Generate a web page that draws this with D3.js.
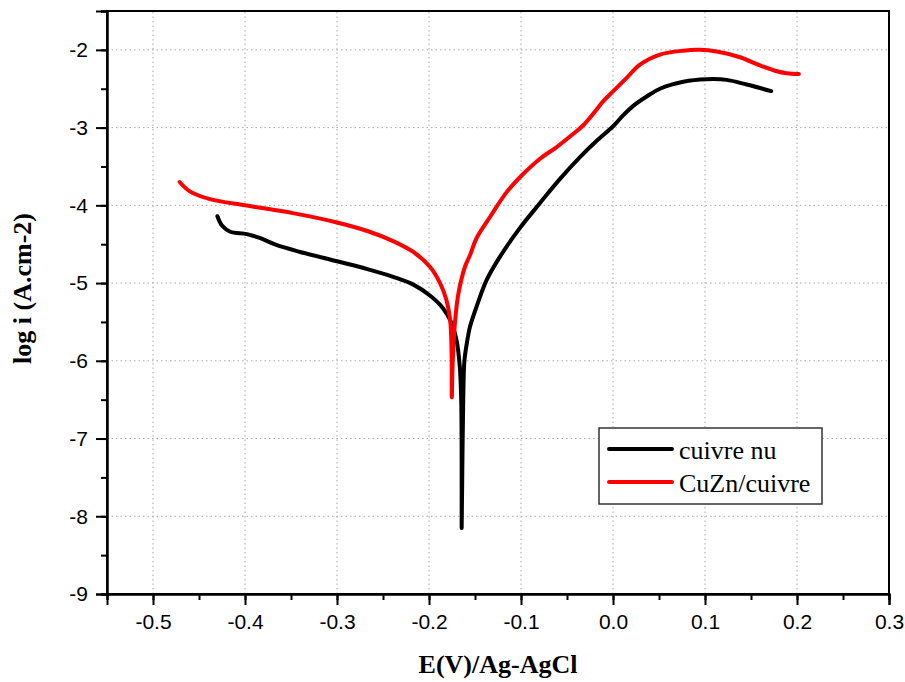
<!DOCTYPE html>
<html>
<head>
<meta charset="utf-8">
<script src="https://cdn.jsdelivr.net/npm/d3@7/dist/d3.min.js"></script>
<style>
  html, body { margin: 0; padding: 0; background: #fff; }
  svg { display: block; }
</style>
</head>
<body>
<svg id="chart" width="905" height="682"></svg>
<script>
// Tafel polarisation curves: potential E (V vs Ag/AgCl) against log current density
const xTicks = [-0.5, -0.4, -0.3, -0.2, -0.1, 0.0, 0.1, 0.2, 0.3];
const yTicks = [-9, -8, -7, -6, -5, -4, -3, -2];
const xDomain = [-0.55, 0.3];
const yDomain = [-9, -1.5];

const seriesNames = ["cuivre nu", "CuZn/cuivre"];
const seriesColors = ["#000000", "#ff0000"];

// cuivre nu : cathodic branch, corrosion potential dip, anodic branch
const cuivreE = [-0.430, -0.425, -0.416, -0.398, -0.384, -0.366, -0.340, -0.300, -0.267, -0.239,
  -0.217, -0.199, -0.185, -0.176, -0.170, -0.1665, -0.1650, -0.1645, -0.1645,
  -0.1637, -0.1628, -0.1615, -0.1584, -0.1554, -0.1482, -0.1373, -0.1228, -0.1011, -0.0793,
  -0.0576, -0.0359, -0.0177, 0.0004, 0.0112, 0.0220, 0.0366, 0.0510, 0.0764, 0.1018,
  0.1235, 0.1453, 0.1720];
const cuivreLogI = [-4.14, -4.26, -4.34, -4.37, -4.42, -4.51, -4.60, -4.72, -4.82, -4.92,
  -5.02, -5.16, -5.32, -5.50, -5.74, -6.08, -6.50, -7.30, -8.15,
  -7.30, -6.50, -6.00, -5.74, -5.56, -5.30, -4.96, -4.66, -4.29, -3.97,
  -3.66, -3.38, -3.17, -2.98, -2.84, -2.72, -2.60, -2.50, -2.41, -2.378,
  -2.386, -2.446, -2.53];

// CuZn/cuivre
const cuznE = [-0.471, -0.460, -0.438, -0.400, -0.348, -0.300, -0.267, -0.239, -0.217, -0.199,
  -0.188, -0.181, -0.177, -0.1755, -0.1752, -0.1745, -0.1736, -0.1717, -0.1681, -0.1609,
  -0.1554, -0.1482, -0.1337, -0.1156, -0.0993, -0.0793, -0.0612, -0.0431, -0.0323, -0.0214,
  -0.0105, 0.0004, 0.0149, 0.0293, 0.0510, 0.0764, 0.0946, 0.1127, 0.1380, 0.1598,
  0.1780, 0.1888, 0.2020];
const cuznLogI = [-3.70, -3.82, -3.92, -4.00, -4.10, -4.22, -4.33, -4.46, -4.60, -4.79,
  -5.00, -5.22, -5.48, -5.87, -6.47, -6.10, -5.86, -5.50, -5.14, -4.79,
  -4.64, -4.42, -4.15, -3.83, -3.616, -3.40, -3.25, -3.08, -2.97, -2.82,
  -2.66, -2.53, -2.36, -2.19, -2.06, -2.01, -2.00, -2.022, -2.095, -2.20,
  -2.275, -2.30, -2.31];

const svg = d3.select("#chart");
const margin = { left: 107, right: 16, top: 11, bottom: 88 };
const W = 905, H = 682;
const x = d3.scaleLinear().domain(xDomain).range([margin.left, W - margin.right]);
const y = d3.scaleLinear().domain(yDomain).range([H - margin.bottom, margin.top]);

const x0 = x.range()[0], x1 = x.range()[1];
const y0 = y.range()[0], y1 = y.range()[1];

// dotted grid at major ticks
const grid = svg.append("g").attr("stroke", "#a8a8a8").attr("stroke-width", 1)
  .attr("stroke-dasharray", "1.5,3");
grid.selectAll("line.gx").data(xTicks.filter(v => v > xDomain[0] && v < xDomain[1]))
  .join("line").attr("class", "gx")
  .attr("x1", d => x(d)).attr("x2", d => x(d)).attr("y1", y0).attr("y2", y1);
grid.selectAll("line.gy").data(yTicks.filter(v => v > yDomain[0] && v < yDomain[1]))
  .join("line").attr("class", "gy")
  .attr("y1", d => y(d)).attr("y2", d => y(d)).attr("x1", x0).attr("x2", x1);

// curves
const line = d3.line().x(d => x(d[0])).y(d => y(d[1])).curve(d3.curveCatmullRom.alpha(0.5));
const series = [d3.zip(cuivreE, cuivreLogI), d3.zip(cuznE, cuznLogI)];
svg.append("g").selectAll("path").data(series).join("path")
  .attr("d", line)
  .attr("fill", "none")
  .attr("stroke", (d, i) => seriesColors[i])
  .attr("stroke-width", 4)
  .attr("stroke-linecap", "round")
  .attr("stroke-linejoin", "round");

// frame
svg.append("rect").attr("x", x0).attr("y", y1).attr("width", x1 - x0).attr("height", y0 - y1)
  .attr("fill", "none").attr("stroke", "#000").attr("stroke-width", 2);

// axes: major ticks labelled, minor ticks in between
const tickFont = "'Liberation Sans', Arial, sans-serif";
const xMinor = d3.range(-0.55, 0.3001, 0.05).map(v => +v.toFixed(2));
const yMinor = d3.range(-9, -1.4999, 0.5);

const xAxisMinor = svg.append("g").attr("transform", `translate(0,${y0})`)
  .call(d3.axisBottom(x).tickValues(xMinor).tickSize(6).tickFormat(""));
const xAxis = svg.append("g").attr("transform", `translate(0,${y0})`)
  .call(d3.axisBottom(x).tickValues(xTicks).tickSize(11).tickPadding(9).tickFormat(d3.format(".1f")));
const yAxisMinor = svg.append("g").attr("transform", `translate(${x0},0)`)
  .call(d3.axisLeft(y).tickValues(yMinor).tickSize(6).tickFormat(""));
const yAxis = svg.append("g").attr("transform", `translate(${x0},0)`)
  .call(d3.axisLeft(y).tickValues(yTicks).tickSize(11).tickPadding(8).tickFormat(d3.format("d")));

[xAxisMinor, xAxis, yAxisMinor, yAxis].forEach(g => {
  g.select(".domain").attr("stroke-width", 2);
  g.selectAll(".tick line").attr("stroke-width", 2);
  g.selectAll(".tick text").attr("font-family", tickFont).attr("font-size", 21).attr("fill", "#000");
});
xAxis.selectAll(".tick text").text(d => d3.format(".1f")(d).replace("−", "-"));
yAxis.selectAll(".tick text").text(d => String(d).replace("−", "-"));

// axis titles
const titleFont = "'Liberation Serif', 'Times New Roman', serif";
svg.append("text").attr("x", (x0 + x1) / 2).attr("y", 673)
  .attr("text-anchor", "middle").attr("font-family", titleFont)
  .attr("font-weight", "bold").attr("font-size", 26).text("E(V)/Ag-AgCl");
svg.append("text").attr("transform", `translate(31,${(y0 + y1) / 2 - 14}) rotate(-90)`)
  .attr("text-anchor", "middle").attr("font-family", titleFont)
  .attr("font-weight", "bold").attr("font-size", 26).text("log i (A.cm-2)");

// legend
const lg = svg.append("g").attr("transform", "translate(599,428)");
lg.append("rect").attr("width", 223).attr("height", 76)
  .attr("fill", "#fff").attr("stroke", "#333").attr("stroke-width", 1.5);
const items = lg.selectAll("g.item").data(seriesNames).join("g").attr("class", "item")
  .attr("transform", (d, i) => `translate(0,${21 + i * 33})`);
items.append("line").attr("x1", 10).attr("x2", 73)
  .attr("stroke", (d, i) => seriesColors[i]).attr("stroke-width", 4).attr("stroke-linecap", "round");
items.append("text").attr("x", 80).attr("y", 10)
  .attr("font-family", titleFont).attr("font-size", 26).attr("fill", "#000").text(d => d);
</script>
</body>
</html>
